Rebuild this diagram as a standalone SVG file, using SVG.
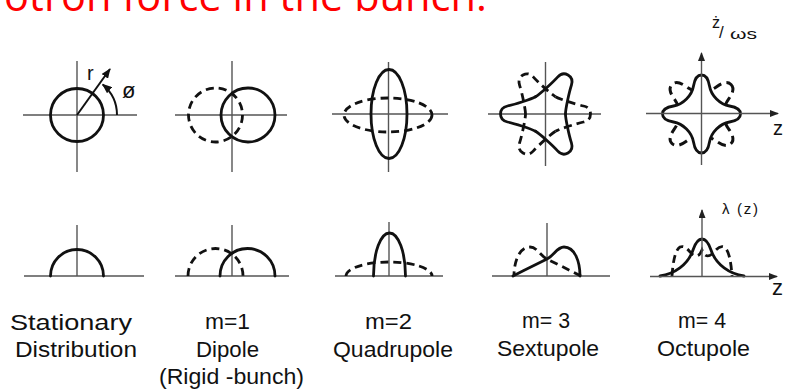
<svg xmlns="http://www.w3.org/2000/svg" xmlns:xlink="http://www.w3.org/1999/xlink" width="789" height="389" viewBox="0 0 789 389">
<style>
.ax{stroke:#555;stroke-width:1.4;fill:none}
.sol{stroke:#111;stroke-width:2.8;fill:none;stroke-linecap:round;stroke-linejoin:round}
.dsh{stroke:#111;stroke-width:2.8;fill:none;stroke-dasharray:8 5}
.lbl{font-family:"Liberation Sans",Arial,sans-serif;font-size:22px;fill:#111}
.sm{font-family:"Liberation Sans",Arial,sans-serif;fill:#111}
</style>
<defs>
<marker id="arr" markerUnits="userSpaceOnUse" markerWidth="9" markerHeight="7" refX="8" refY="3.5" orient="auto">
<path d="M0,0 L9,3.5 L0,7 Z" fill="#222"/>
</marker>
<marker id="arrb" markerUnits="userSpaceOnUse" markerWidth="10" markerHeight="8" refX="9" refY="4" orient="auto">
<path d="M0,0 L10,4 L0,8 Z" fill="#111"/>
</marker>
<path id="lobe" d="M-17.3,-10 C-14.8,-14.3 -9.5,-31 -8,-38 C-7,-42.5 -4.5,-45 0,-45 C4.5,-45 7,-42.5 8,-38 C9.5,-31 14.8,-14.3 17.3,-10"/>
<path id="oct" d="M0,-39 C5,-39 7,-34 8,-28 C9,-22 11,-19 15,-15 C19,-11 22,-9 28,-8 C34,-7 39,-5 39,0 C39,5 34,7 28,8 C22,9 19,11 15,15 C11,19 9,22 8,28 C7,34 5,39 0,39 C-5,39 -7,34 -8,28 C-9,22 -11,19 -15,15 C-19,11 -22,9 -28,8 C-34,7 -39,5 -39,0 C-39,-5 -34,-7 -28,-8 C-22,-9 -19,-11 -15,-15 C-11,-19 -9,-22 -8,-28 C-7,-34 -5,-39 0,-39 Z"/>
</defs>
<rect width="789" height="389" fill="#fff"/>
<text id="title" x="4" y="11" font-family="'Open Sans','Noto Sans',sans-serif" font-size="41.5" fill="#ff0000" textLength="483">otron force in the bunch.</text>

<g id="stationary-top">
<line class="ax" x1="23" y1="115" x2="137" y2="115"/>
<line class="ax" x1="77" y1="61" x2="77" y2="172"/>
<circle class="sol" cx="77" cy="115" r="26.5"/>
<line x1="77" y1="115" x2="110" y2="69" stroke="#111" stroke-width="2" marker-end="url(#arrb)"/>
<path d="M117,115 A40,40 0 0 0 102.7,84.4" fill="none" stroke="#111" stroke-width="2" marker-end="url(#arrb)"/>
<text class="sm" x="87" y="80" font-size="20">r</text>
<text class="sm" x="122" y="98" font-size="22">ø</text>
</g>

<g id="dipole-top">
<line class="ax" x1="175" y1="115" x2="287" y2="115"/>
<line class="ax" x1="232" y1="61" x2="232" y2="172"/>
<circle class="dsh" cx="215.5" cy="115" r="27"/>
<circle class="sol" cx="248" cy="115" r="27"/>
</g>

<g id="quadrupole-top">
<line class="ax" x1="332" y1="114" x2="448" y2="114"/>
<line class="ax" x1="388.5" y1="62" x2="388.5" y2="172"/>
<ellipse class="dsh" cx="388" cy="115" rx="44" ry="17"/>
<ellipse class="sol" cx="389" cy="114" rx="18" ry="44.5"/>
</g>

<g id="sextupole-top">
<line class="ax" x1="488" y1="114" x2="601" y2="114"/>
<line class="ax" x1="545.5" y1="62" x2="545.5" y2="166"/>
<g transform="translate(545.5,114)">
<use xlink:href="#lobe" class="dsh" transform="rotate(90)"/>
<use xlink:href="#lobe" class="dsh" transform="rotate(-30)"/>
<use xlink:href="#lobe" class="dsh" transform="rotate(210)"/>
<use xlink:href="#lobe" class="sol" transform="rotate(-90)"/>
<use xlink:href="#lobe" class="sol" transform="rotate(30)"/>
<use xlink:href="#lobe" class="sol" transform="rotate(150)"/>
</g>
</g>

<g id="octupole-top">
<g transform="translate(701.5,114)">
<use xlink:href="#oct" class="dsh" transform="rotate(45) scale(1.07)"/>
<use xlink:href="#oct" class="sol" style="fill:#fff"/>
</g>
<line class="ax" x1="646" y1="113.5" x2="778" y2="113.5" marker-end="url(#arr)"/>
<line class="ax" x1="701.5" y1="165" x2="701.5" y2="53" marker-end="url(#arr)"/>
<text class="sm" x="712" y="28" font-size="16">ż</text>
<text class="sm" x="719" y="38" font-size="17">/</text>
<text class="sm" x="730" y="39" font-size="14" textLength="27" lengthAdjust="spacingAndGlyphs">ωs</text>
<text class="sm" x="773" y="135" font-size="20">z</text>
</g>

<g id="stationary-bottom">
<line class="ax" x1="24" y1="276" x2="144" y2="276"/>
<line class="ax" x1="77" y1="225" x2="77" y2="276"/>
<path class="sol" d="M50.5,276 A26.5,26.5 0 0 1 103.5,276"/>
</g>

<g id="dipole-bottom">
<line class="ax" x1="175" y1="276" x2="289" y2="276"/>
<line class="ax" x1="232" y1="225" x2="232" y2="276"/>
<path class="dsh" d="M188,276 A27.5,27.5 0 0 1 243,276"/>
<path class="sol" d="M220,276 A27.5,27.5 0 0 1 275,276"/>
</g>

<g id="quadrupole-bottom">
<line class="ax" x1="335" y1="276" x2="443" y2="276"/>
<line class="ax" x1="389" y1="222" x2="389" y2="276"/>
<path class="dsh" d="M346,276 A43,14 0 0 1 432,276"/>
<path class="sol" d="M373.5,276 A16,43 0 0 1 405.5,276"/>
</g>

<g id="sextupole-bottom">
<line class="ax" x1="492" y1="276" x2="610" y2="276"/>
<line class="ax" x1="547" y1="223" x2="547" y2="276"/>
<path class="dsh" d="M581,276 C569,270 554,262.5 547,259 C540,255.5 537,247 530,247 C519,247 514,262 514,276"/>
<path class="sol" d="M513,276 C525,270 540,262.5 547,259 C554,255.5 557,247 564,247 C575,247 580,262 580,276"/>
</g>

<g id="octupole-bottom">
<path class="dsh" d="M672,276 C673,262 675,250 680,247 C685,245 688,250 692,254 C697,258 700,255 702,250 C704,255 707,258 712,254 C716,250 719,245 724,247 C729,250 731,262 732,276"/>
<path class="sol" d="M660,276 C674,274 688,265 693,250 C696,241 699,239 702,239 C705,239 708,241 711,250 C716,265 730,274 744,276"/>
<line class="ax" x1="650" y1="276.5" x2="777" y2="276.5" marker-end="url(#arr)"/>
<line class="ax" x1="702" y1="276" x2="702" y2="210" marker-end="url(#arr)"/>
<text class="sm" x="722" y="214" font-size="15" textLength="36">λ (z)</text>
<text class="sm" x="772" y="295" font-size="22">z</text>
</g>

<g id="labels">
<text class="lbl" x="10" y="330" textLength="122" lengthAdjust="spacingAndGlyphs">Stationary</text>
<text class="lbl" x="15" y="357" textLength="122" lengthAdjust="spacingAndGlyphs">Distribution</text>
<text class="lbl" x="205" y="329" textLength="45" lengthAdjust="spacingAndGlyphs">m=1</text>
<text class="lbl" x="196" y="357" textLength="63" lengthAdjust="spacingAndGlyphs">Dipole</text>
<text class="lbl" x="159" y="384" textLength="145" lengthAdjust="spacingAndGlyphs">(Rigid -bunch)</text>
<text class="lbl" x="365" y="329" textLength="47" lengthAdjust="spacingAndGlyphs">m=2</text>
<text class="lbl" x="333" y="357" textLength="120" lengthAdjust="spacingAndGlyphs">Quadrupole</text>
<text class="lbl" x="522" y="328" textLength="48" lengthAdjust="spacingAndGlyphs">m= 3</text>
<text class="lbl" x="497" y="356" textLength="102" lengthAdjust="spacingAndGlyphs">Sextupole</text>
<text class="lbl" x="678" y="328" textLength="48" lengthAdjust="spacingAndGlyphs">m= 4</text>
<text class="lbl" x="657" y="356" textLength="93" lengthAdjust="spacingAndGlyphs">Octupole</text>
</g>
</svg>
